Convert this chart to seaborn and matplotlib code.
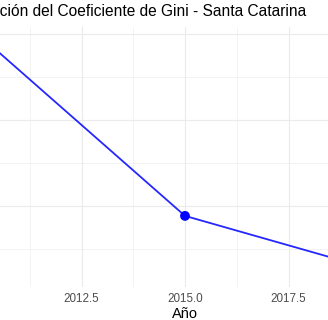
import matplotlib
matplotlib.use("Agg")
import matplotlib.pyplot as plt
import seaborn as sns
import pandas as pd
from matplotlib.ticker import MultipleLocator, FixedLocator

years = [2010, 2015, 2020]
gini = [0.4800, 0.4377, 0.4240]
xticks = [2012.5, 2015.0, 2017.5]
title = "Evolución del Coeficiente de Gini - Santa Catarina"
xlabel = "Año"

df = pd.DataFrame({"Año": years, "Gini": gini})

sns.set_theme(style="white")
plt.rcParams["font.family"] = ["Liberation Sans", "DejaVu Sans"]

W, H = 328, 320
fig = plt.figure(figsize=(W / 100, H / 100), dpi=100)
# panel in pixel coords (extends beyond the visible crop)
pl, pr, pt, pb = -42.7, 412.7, 27, 287
ax = fig.add_axes([pl / W, 1 - pb / H, (pr - pl) / W, (pb - pt) / H])

sns.lineplot(data=df, x="Año", y="Gini", ax=ax, color="#0000FF", linewidth=1.3, alpha=0.85)
sns.scatterplot(data=df, x="Año", y="Gini", ax=ax, color="#0000FF", s=50, edgecolor="none", zorder=5)

ax.set_xlim(2009.5, 2020.5)
ax.set_ylim(0.42116, 0.48163)
ax.xaxis.set_major_locator(FixedLocator(xticks))
ax.set_xticklabels([f"{t:.1f}" for t in xticks])
ax.xaxis.set_minor_locator(MultipleLocator(1.25))
ax.yaxis.set_major_locator(MultipleLocator(0.02))
ax.yaxis.set_minor_locator(MultipleLocator(0.01))
ax.grid(which="major", color="#EBEBEB", linewidth=0.8)
ax.grid(which="minor", color="#EBEBEB", linewidth=0.4)
ax.set_axisbelow(True)
for s in ax.spines.values():
    s.set_visible(False)
ax.tick_params(which="both", length=0)
ax.tick_params(axis="x", labelsize=8.4, labelcolor="#4D4D4D", pad=4)
ax.set_yticklabels([])
ax.set_ylabel("")
ax.set_xlabel(xlabel, fontsize=10.5, color="black", labelpad=2)

fig.text(306 / W, 1 - 12 / H, title, ha="right", va="center", fontsize=11.2, color="black")

fig.savefig("out.png", dpi=100)
